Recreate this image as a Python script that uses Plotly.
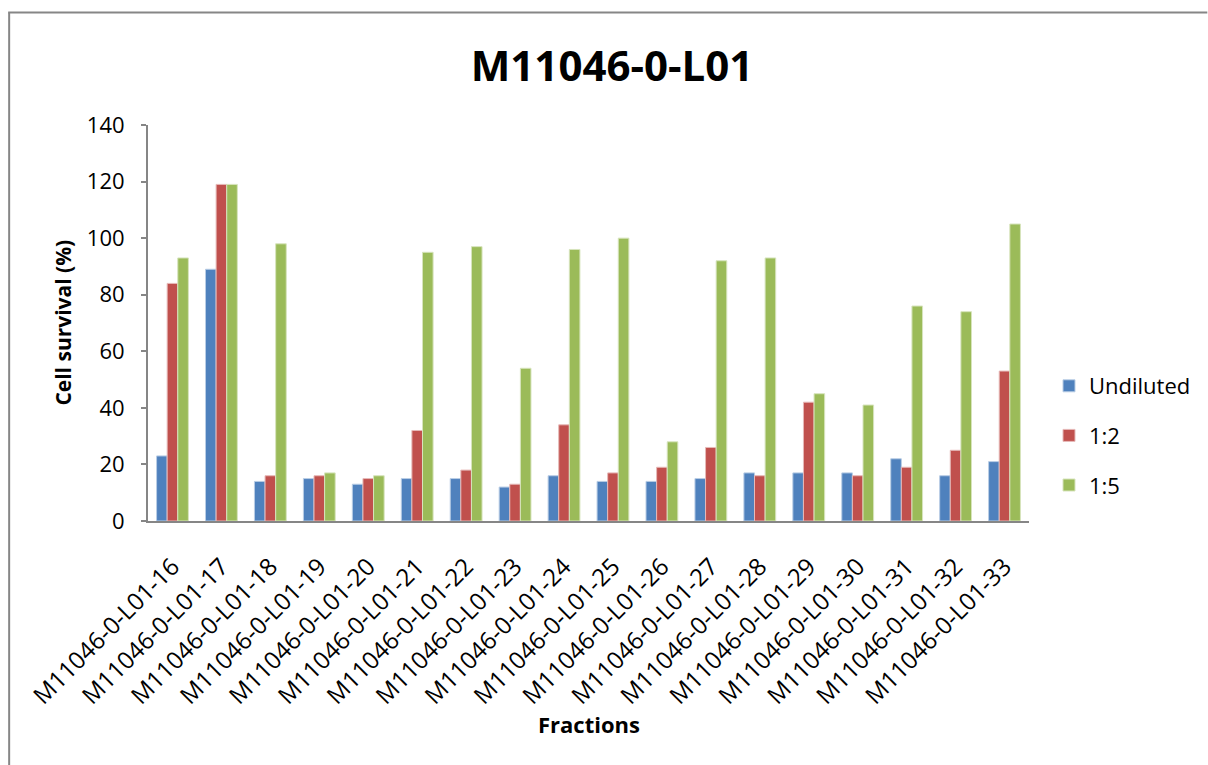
import plotly.graph_objects as go

# Fractions tested and cell survival (%) at each dilution
fractions = [f"M11046-0-L01-{n}" for n in range(16, 34)]
undiluted = [23, 89, 14, 15, 13, 15, 15, 12, 16, 14, 14, 15, 17, 17, 17, 22, 16, 21]
dil_1_2 = [84, 119, 16, 16, 15, 32, 18, 13, 34, 17, 19, 26, 16, 42, 16, 19, 25, 53]
dil_1_5 = [93, 119, 98, 17, 16, 95, 97, 54, 96, 100, 28, 92, 93, 45, 41, 76, 74, 105]
y_ticks = [0, 20, 40, 60, 80, 100, 120, 140]

W, H = 1208, 765
FONT = "Open Sans"
AXIS_GREY = "#868686"

series = [
    ("Undiluted", undiluted, "#4F81BD", "#B9CDE5"),
    ("1:2", dil_1_2, "#C0504D", "#E6B9B8"),
    ("1:5", dil_1_5, "#9BBB59", "#D7E4BD"),
]

fig = go.Figure()
for name, vals, color, edge in series:
    fig.add_trace(go.Bar(
        name=name, x=fractions, y=vals, legendgroup=name,
        marker=dict(color=color, line=dict(color=edge, width=1)),
    ))

left, right, top, bottom = 147.5, 1029.5, 125, 521


def px_x(px):
    return (px - left) / (right - left)


def px_y(py):
    return (bottom - py) / (bottom - top)


fig.update_layout(
    width=W, height=H,
    paper_bgcolor="white", plot_bgcolor="white",
    margin=dict(l=left, r=W - right, t=top, b=H - bottom, autoexpand=False),
    barmode="group", bargap=0.35, bargroupgap=0,
    font=dict(family=FONT, size=22, color="black"),
    title=dict(
        text="<b>M11046-0-L01</b>", font=dict(family=FONT, size=42, color="black"),
        x=612 / W, xref="container", xanchor="center",
        y=1 - 66 / H, yref="container", yanchor="middle",
    ),
    showlegend=True,
    legend=dict(
        xref="container", yref="container",
        x=1049 / W, xanchor="left", y=1 - 365 / H, yanchor="top",
        font=dict(family=FONT, size=22, color="black"),
        tracegroupgap=18, bgcolor="rgba(0,0,0,0)",
    ),
    xaxis=dict(
        type="category", tickangle=-45, showgrid=False,
        showline=True, linecolor=AXIS_GREY, linewidth=2,
        ticks="", tickfont=dict(family=FONT, size=24, color="black"),
        ticklabelstandoff=20,
    ),
    yaxis=dict(
        range=[0, 140], tickvals=y_ticks, showgrid=False,
        showline=True, linecolor=AXIS_GREY, linewidth=2,
        ticks="outside", ticklen=5, tickcolor=AXIS_GREY, tickwidth=2,
        tickfont=dict(family=FONT, size=22, color="black"),
        ticklabelstandoff=12, zeroline=False,
    ),
    annotations=[
        dict(text="<b>Cell survival (%)</b>", textangle=-90,
             xref="paper", yref="paper", x=px_x(62), y=0.5,
             xanchor="center", yanchor="middle", showarrow=False,
             font=dict(family=FONT, size=21, color="black")),
        dict(text="<b>Fractions</b>",
             xref="paper", yref="paper", x=0.5, y=px_y(724),
             xanchor="center", yanchor="middle", showarrow=False,
             font=dict(family=FONT, size=22, color="black")),
    ],
    shapes=[
        # outer chart frame: left and top edges
        dict(type="line", xref="paper", yref="paper",
             x0=px_x(8.5), x1=px_x(8.5), y0=px_y(H + 10), y1=px_y(12.5),
             line=dict(color=AXIS_GREY, width=2), layer="below"),
        dict(type="line", xref="paper", yref="paper",
             x0=px_x(7.5), x1=px_x(W), y0=px_y(12.5), y1=px_y(12.5),
             line=dict(color=AXIS_GREY, width=2), layer="below"),
    ],
)

fig.write_html("out.html")
